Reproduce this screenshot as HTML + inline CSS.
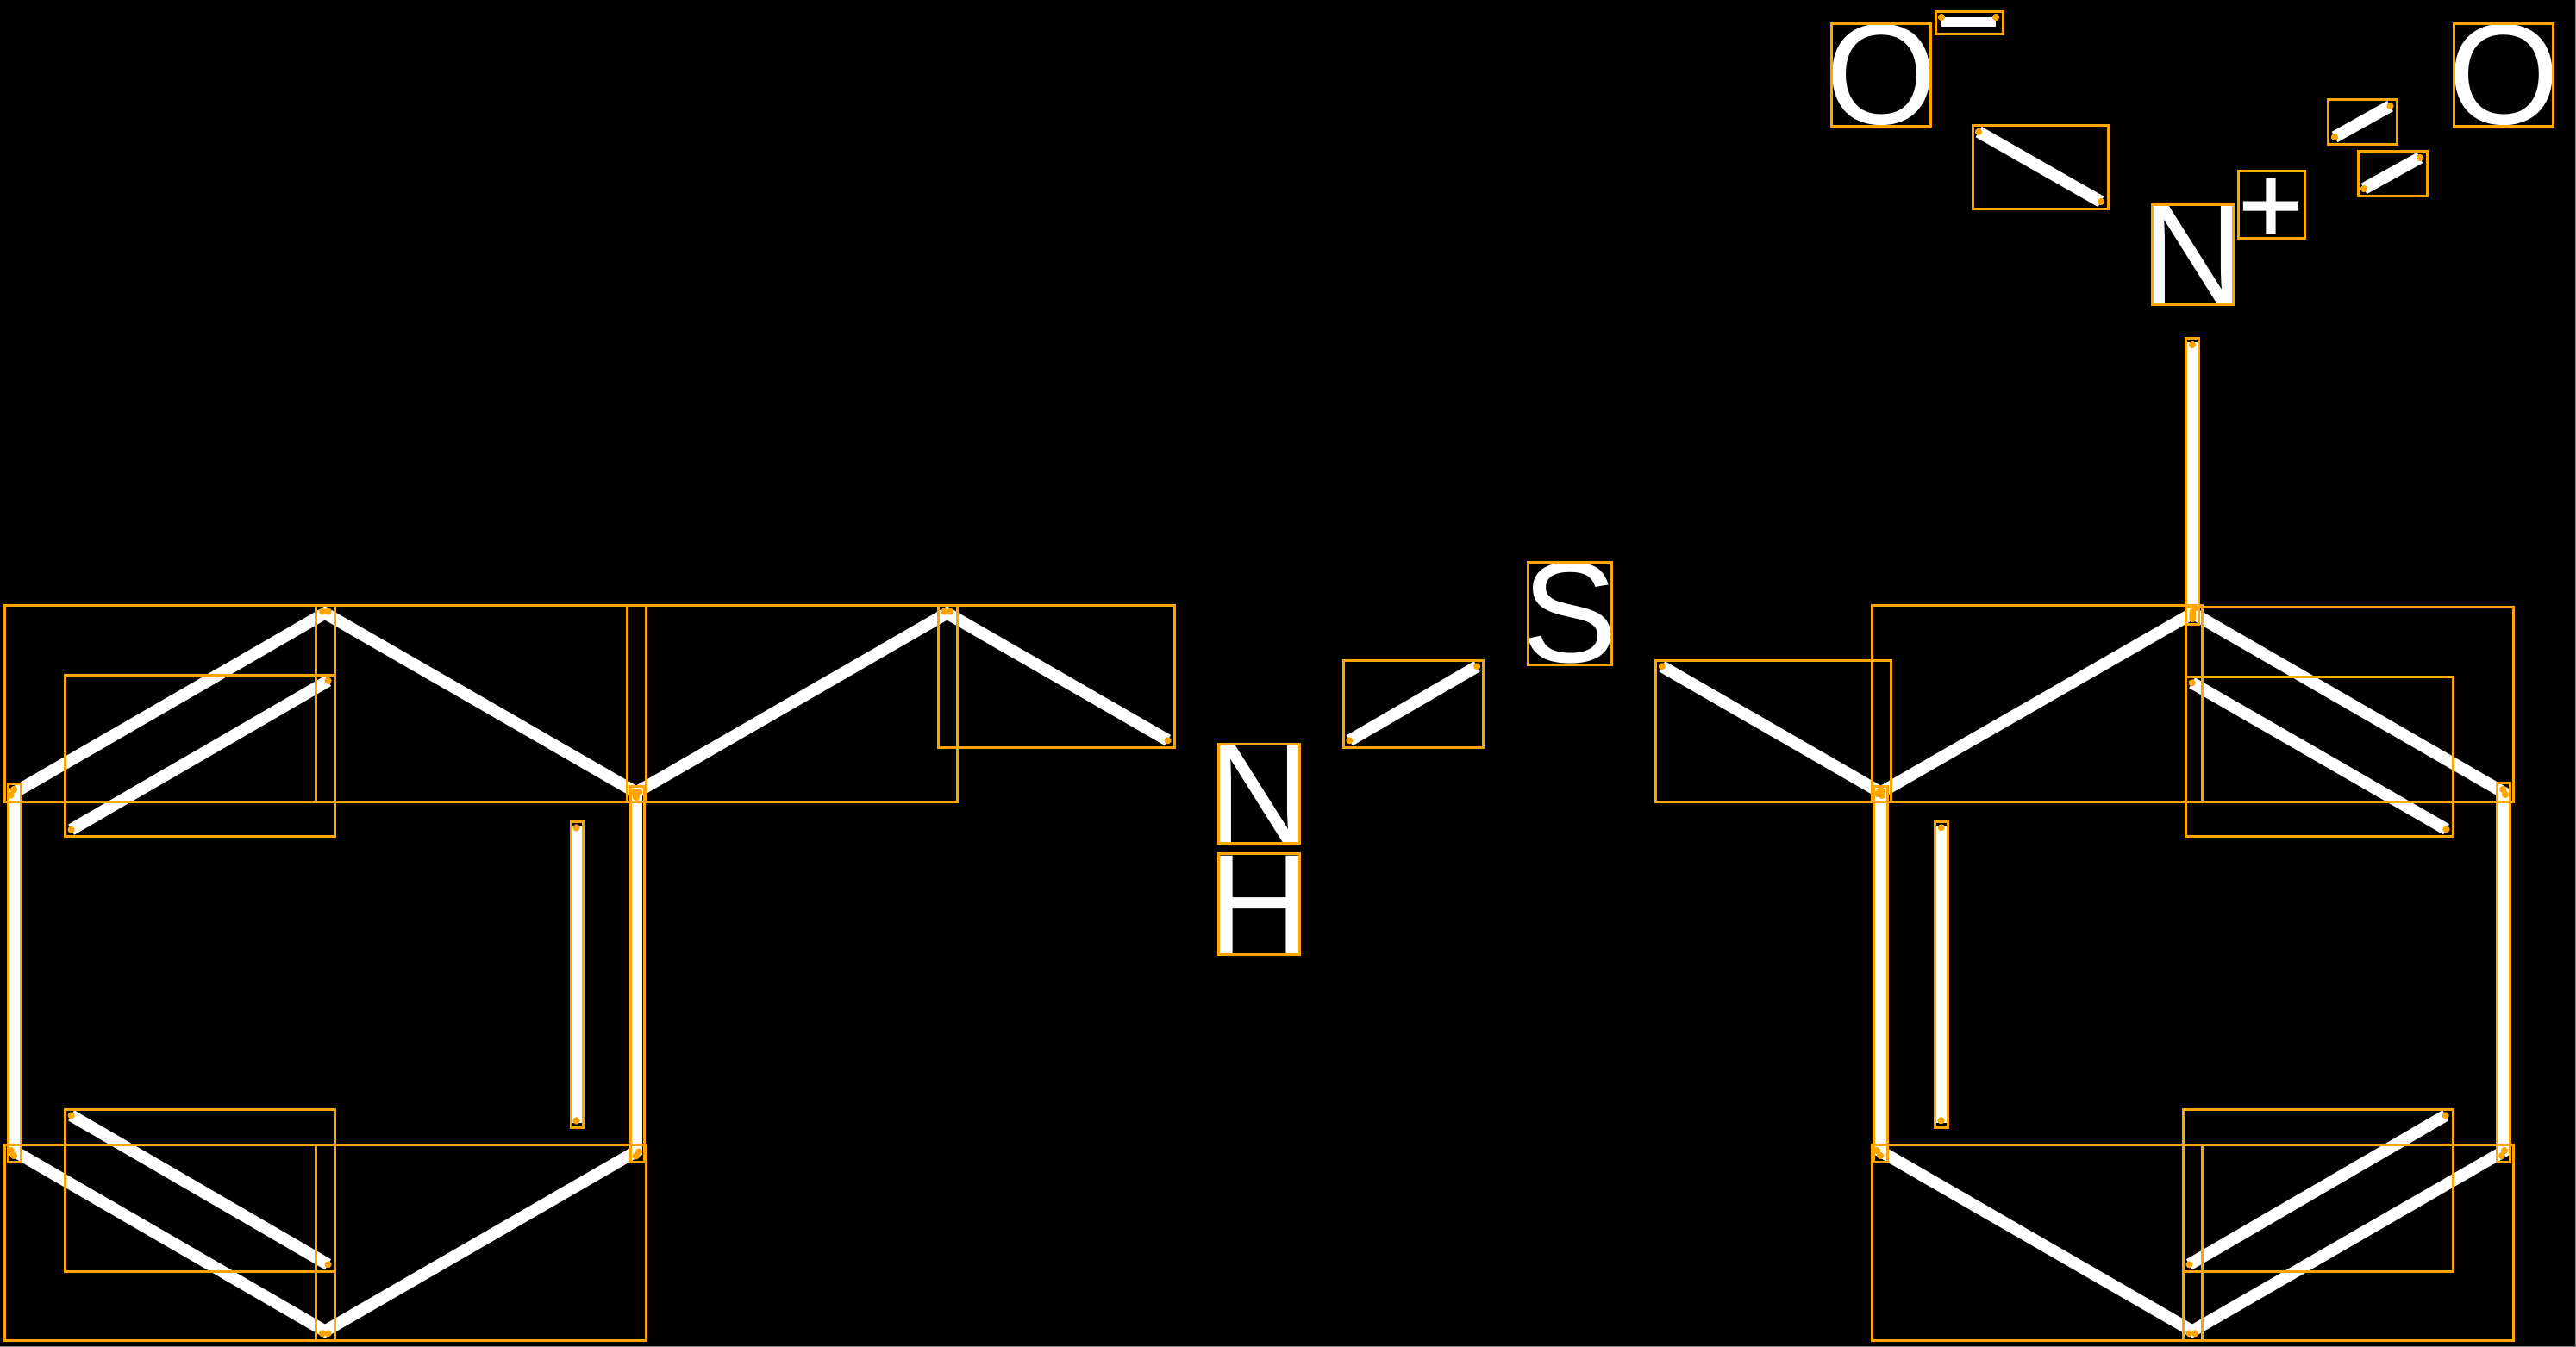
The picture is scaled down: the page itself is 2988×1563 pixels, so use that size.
<!DOCTYPE html>
<html lang="en">
<head>
<meta charset="utf-8">
<title>Molecule diagram</title>
<style>
html,body{margin:0;padding:0;background:#000;width:2988px;height:1563px;overflow:hidden}
svg{display:block}
text{font-family:"Liberation Sans",sans-serif;fill:#fff;text-anchor:middle}
.b{fill:none;stroke:#fff;stroke-width:14;stroke-linejoin:miter;stroke-miterlimit:10;stroke-linecap:butt}
.r rect{fill:none;stroke:#FFA500;stroke-width:3;shape-rendering:crispEdges}
.d circle{fill:#FFA500;shape-rendering:crispEdges}
</style>
</head>
<body>
<svg width="2988" height="1563" viewBox="0 0 2988 1563" xmlns="http://www.w3.org/2000/svg">
<rect x="0" y="0" width="2988" height="1563" fill="#000"/>
<rect x="2987" y="0" width="1" height="1563" fill="#888"/>
<rect x="0" y="1562" width="2988" height="1" fill="#888"/>

<!-- bonds -->
<g class="b">
<path d="M17 1336 L17 919.5 L377 711.5 L738 919.5 L738 1336 L377 1544.5 Z"/>
<path d="M82.6 962.7 L380.6 790"/>
<path d="M82.6 1294.3 L380.6 1467.3"/>
<path d="M669 958 L669 1303"/>
<path d="M738 919.5 L1098.5 711.5 L1354.6 859"/>
<path d="M1565.3 859.3 L1713.3 773.3"/>
<path d="M1927.8 773.3 L2181.5 919.5"/>
<path d="M2181.5 1336 L2181.5 919.5 L2543.5 711.5 L2904 919.5 L2904 1336 L2543 1544.5 Z"/>
<path d="M2542.6 792.3 L2837.5 962.3"/>
<path d="M2539.4 1467.3 L2836.7 1294.3"/>
<path d="M2252 958 L2252 1303"/>
<path d="M2543 397 L2543 712"/>
<path d="M2295 153 L2437 234"/>
<path d="M2708 159 L2772.5 123"/>
<path d="M2742 219 L2807 183"/>
</g>
<rect x="2252" y="20" width="63" height="11" fill="#fff"/>

<!-- atom labels -->
<text x="2182" y="143.5" font-size="166">O</text>
<text x="2904" y="143.5" font-size="166">O</text>
<text x="2543.5" y="352" font-size="166">N</text>
<text x="2634" y="282" font-size="128" stroke="#fff" stroke-width="2">+</text>
<text x="1460.5" y="978" font-size="166">N</text>
<text x="1460.5" y="1107" font-size="166">H</text>
<text x="1820.5" y="768" font-size="166">S</text>

<!-- boxes -->
<g class="r">
<rect x="5.5" y="702.5" width="383" height="228"/>
<rect x="366.5" y="702.5" width="383" height="228"/>
<rect x="727.5" y="702.5" width="383" height="228"/>
<rect x="1088.5" y="702.5" width="274" height="165"/>
<rect x="75.5" y="783.5" width="313" height="187"/>
<rect x="9.5" y="909.5" width="15" height="439"/>
<rect x="731.5" y="912.5" width="16" height="436"/>
<rect x="662.5" y="953.5" width="14" height="355"/>
<rect x="5.5" y="1328.5" width="383" height="227"/>
<rect x="366.5" y="1328.5" width="383" height="227"/>
<rect x="75.5" y="1287.5" width="313" height="188"/>
<rect x="1413.5" y="863.5" width="94" height="115"/>
<rect x="1413.5" y="990.5" width="94" height="117"/>
<rect x="1558.5" y="766.5" width="162" height="101"/>
<rect x="1772.5" y="652.5" width="97" height="119"/>
<rect x="1920.5" y="766.5" width="273" height="164"/>
<rect x="2171.5" y="702.5" width="383" height="228"/>
<rect x="2535.5" y="704.5" width="380" height="226"/>
<rect x="2535.5" y="785.5" width="310" height="185"/>
<rect x="2173.5" y="912.5" width="16" height="436"/>
<rect x="2896.5" y="908.5" width="15" height="440"/>
<rect x="2244.5" y="953.5" width="15" height="355"/>
<rect x="2535.5" y="392.5" width="15" height="332"/>
<rect x="2171.5" y="1328.5" width="383" height="227"/>
<rect x="2532.5" y="1328.5" width="383" height="227"/>
<rect x="2532.5" y="1287.5" width="313" height="188"/>
<rect x="2124.5" y="27.5" width="115" height="119"/>
<rect x="2245.5" y="13.5" width="78" height="26"/>
<rect x="2288.5" y="145.5" width="157" height="97"/>
<rect x="2496.5" y="237.5" width="94" height="116"/>
<rect x="2596.5" y="198.5" width="77" height="78"/>
<rect x="2700.5" y="115.5" width="80" height="52"/>
<rect x="2735.5" y="175.5" width="80" height="52"/>
<rect x="2846.5" y="27.5" width="115" height="119"/>
</g>

<!-- endpoints -->
<g class="d">
<circle cx="16" cy="916" r="4"/><circle cx="12.8" cy="922.5" r="4"/>
<circle cx="374" cy="709.5" r="4"/><circle cx="380.6" cy="709.5" r="4"/>
<circle cx="735" cy="919" r="4"/><circle cx="741" cy="919" r="4"/><circle cx="738" cy="922" r="4"/><circle cx="738" cy="925" r="4"/>
<circle cx="82.6" cy="962.7" r="4"/><circle cx="380.6" cy="790" r="4"/>
<circle cx="668.5" cy="960.5" r="4"/><circle cx="668.5" cy="1300.5" r="4"/>
<circle cx="16" cy="1341" r="4"/><circle cx="12.8" cy="1335" r="4"/>
<circle cx="741" cy="1336.5" r="4"/><circle cx="737.7" cy="1341.5" r="4"/>
<circle cx="374" cy="1547.3" r="4"/><circle cx="380.6" cy="1547.3" r="4"/>
<circle cx="82.6" cy="1294.3" r="4"/><circle cx="380.6" cy="1467.3" r="4"/>
<circle cx="1095.4" cy="709.5" r="4"/><circle cx="1102" cy="709.5" r="4"/>
<circle cx="1354.6" cy="859.3" r="4"/>
<circle cx="1565.3" cy="859.3" r="4"/><circle cx="1713.3" cy="773.3" r="4"/>
<circle cx="1927.8" cy="773.3" r="4"/>
<circle cx="2180.5" cy="918" r="4"/><circle cx="2183" cy="918" r="4"/><circle cx="2178" cy="921" r="4"/><circle cx="2183" cy="923" r="4"/>
<circle cx="2543.3" cy="710" r="4"/><circle cx="2543.3" cy="714" r="4"/><circle cx="2543.3" cy="718" r="4"/><circle cx="2545.5" cy="706" r="4"/>
<circle cx="2903.3" cy="916" r="4"/><circle cx="2906" cy="922" r="4"/>
<circle cx="2542.6" cy="792.3" r="4"/><circle cx="2837.5" cy="962.3" r="4"/>
<circle cx="2251.8" cy="960.3" r="4"/><circle cx="2251.5" cy="1300.3" r="4"/>
<circle cx="2177" cy="1335" r="4"/><circle cx="2181" cy="1341" r="4"/>
<circle cx="2905" cy="1335" r="4"/><circle cx="2902" cy="1341" r="4"/>
<circle cx="2539.4" cy="1547.3" r="4"/><circle cx="2546.2" cy="1547.3" r="4"/>
<circle cx="2539.4" cy="1467.3" r="4"/><circle cx="2836.7" cy="1294.3" r="4"/>
<circle cx="2543" cy="400" r="4"/>
<circle cx="2295" cy="153" r="4"/><circle cx="2437" cy="234" r="4"/>
<circle cx="2252" cy="20" r="4"/><circle cx="2315" cy="20" r="4"/>
<circle cx="2708" cy="159" r="4"/><circle cx="2772.5" cy="123" r="4"/>
<circle cx="2742" cy="219" r="4"/><circle cx="2807" cy="183" r="4"/>
</g>
</svg>
</body>
</html>
